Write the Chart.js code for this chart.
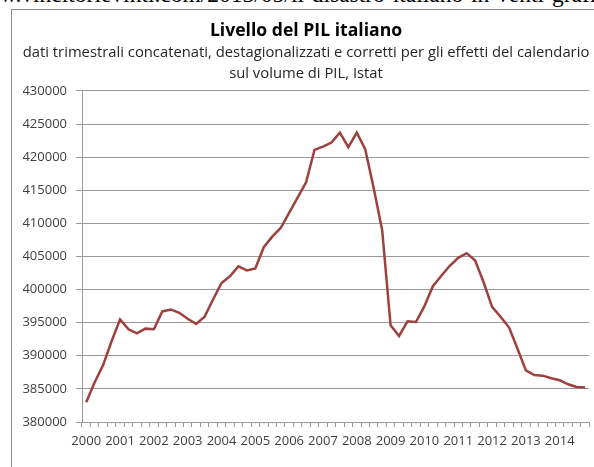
<!DOCTYPE html>
<html>
<head>
<meta charset="utf-8">
<script src="https://cdn.jsdelivr.net/npm/chart.js@4/dist/chart.umd.min.js"></script>
<style>
	html, body { margin: 0; padding: 0; background: #fff; overflow: hidden; width: 594px; height: 467px; }
	.url {
		position: absolute; left: 0; top: -17px; margin: 0;
		font: 23.5px/1 "Liberation Serif", "DejaVu Serif", serif;
		color: #000; white-space: nowrap;
	}
	.box {
		position: absolute; left: 11px; top: 9px; width: 600px; height: 470px;
		border-left: 1px solid #8c8c8c; border-top: 1px solid #8c8c8c;
	}
	canvas { display: block; }
</style>
</head>
<body>

<p class="url">w.vincitorievinti.com/2013/05/il-disastro-italiano-in-venti-grafici</p>

<div class="box">
	<canvas id="pil" width="588" height="457"></canvas>
</div>

<script>

const years = [ 2000, 2001, 2002, 2003, 2004, 2005, 2006, 2007, 2008, 2009, 2010, 2011, 2012, 2013, 2014 ];
const quarters = [ 'I', 'II', 'III', 'IV' ];

// livello del PIL, milioni di euro, un valore per trimestre
const pil = [
	383000, 386000, 388600, 392200,
	395500, 394000, 393400, 394100,
	394000, 396700, 397000, 396500,
	395600, 394800, 395900, 398500,
	401000, 402000, 403500, 402900,
	403200, 406400, 408000, 409300,
	411600, 413900, 416200, 421100,
	421600, 422200, 423700, 421500,
	423700, 421200, 415300, 409000,
	394600, 393000, 395200, 395100,
	397500, 400500, 402100, 403600,
	404800, 405500, 404400, 401100,
	397400, 395900, 394300, 391100,
	387800, 387100, 387000, 386600,
	386300, 385700, 385300, 385200
];

const yMin = 380000;
const yMax = 430000;
const yStep = 5000;

const labels = years.flatMap( y => quarters.map( q => `${ q } ${ y }` ) );

const font = '"Open Sans", "Noto Sans", sans-serif';
const gridColor = '#9a9a9a';

new Chart( 'pil', {
	type: 'line',
	data: {
		labels: labels,
		datasets: [{
			data: pil,
			borderColor: '#9e403e',
			borderWidth: 2.5,
			pointRadius: 0,
			tension: 0,
			fill: false
		}]
	},
	options: {
		responsive: false,
		animation: false,
		layout: {
			padding: { left: 10.7, right: 10.7, top: 0, bottom: 0 }
		},
		plugins: {
			legend: { display: false },
			tooltip: { enabled: false },
			title: {
				display: true,
				text: 'Livello del PIL italiano',
				color: '#000',
				font: { family: font, size: 17.6, weight: 'bold', lineHeight: 1.2 },
				padding: { top: 10.5, bottom: 0 }
			},
			subtitle: {
				display: true,
				text: [
					'dati trimestrali concatenati, destagionalizzati e corretti per gli effetti del calendario',
					'sul volume di PIL, Istat'
				],
				color: '#262626',
				font: { family: font, size: 14.8, lineHeight: 1.45 },
				padding: { top: 0.2, bottom: 6.2 }
			}
		},
		scales: {
			x: {
				offset: true,
				grid: {
					offset: true,
					drawOnChartArea: false,
					drawTicks: true,
					tickLength: 5,
					color: gridColor
				},
				border: { display: true, color: gridColor },
				ticks: {
					autoSkip: false,
					maxRotation: 0,
					minRotation: 0,
					padding: 6,
					color: '#404040',
					font: { family: font, size: 13 },
					callback: ( v, i ) => i % 4 === 0 ? labels[ i ].split( ' ' )[1] : ''
				},
				afterFit: s => { s.height = 45; }
			},
			y: {
				min: yMin,
				max: yMax,
				grid: {
					color: gridColor,
					tickLength: 6
				},
				border: { display: true, color: gridColor },
				ticks: {
					stepSize: yStep,
					padding: 9,
					color: '#404040',
					font: { family: font, size: 13 },
					callback: v => v
				},
				afterFit: s => { s.width = 59.3; }
			}
		}
	}
} );

</script>
</body>
</html>
